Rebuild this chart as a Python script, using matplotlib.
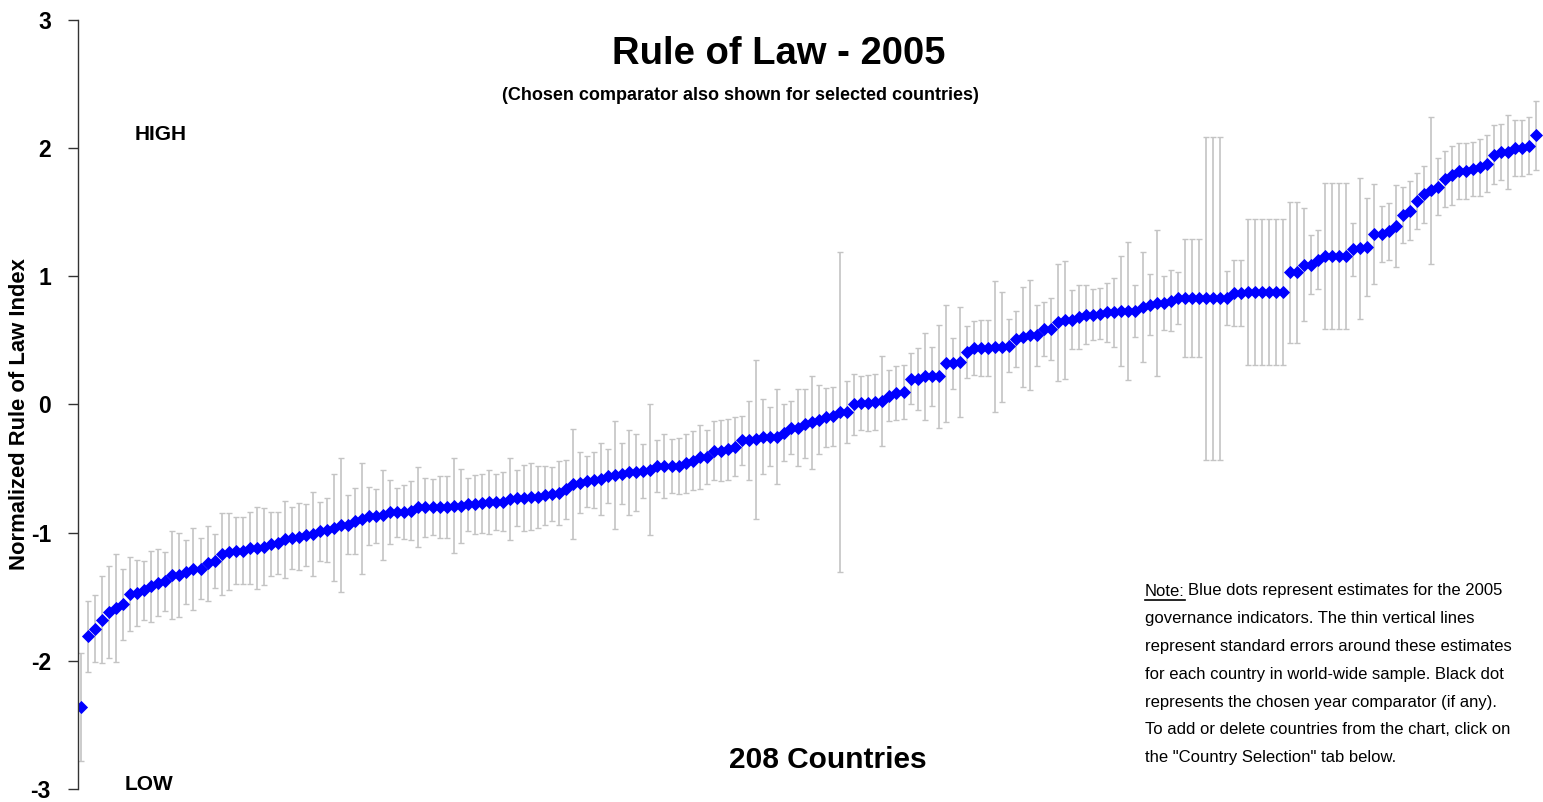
import numpy as np
import matplotlib
matplotlib.use("Agg")
import matplotlib.pyplot as plt
from matplotlib.lines import Line2D

# Rule of Law estimates (sorted) and their standard errors, 208 countries
estimates = [
    -2.36, -1.81, -1.75, -1.68, -1.62, -1.59, -1.56, -1.48, -1.47, -1.45,
    -1.42, -1.39, -1.38, -1.33, -1.33, -1.31, -1.28, -1.28, -1.24, -1.22,
    -1.17, -1.15, -1.14, -1.14, -1.12, -1.12, -1.11, -1.09, -1.08, -1.05,
    -1.04, -1.03, -1.02, -1.01, -0.99, -0.98, -0.96, -0.94, -0.94, -0.91,
    -0.89, -0.87, -0.87, -0.86, -0.84, -0.84, -0.84, -0.83, -0.80, -0.80,
    -0.80, -0.80, -0.80, -0.79, -0.79, -0.78, -0.78, -0.77, -0.76, -0.76,
    -0.76, -0.74, -0.73, -0.73, -0.72, -0.72, -0.71, -0.70, -0.69, -0.66,
    -0.62, -0.61, -0.60, -0.59, -0.58, -0.56, -0.55, -0.54, -0.53, -0.53,
    -0.52, -0.51, -0.48, -0.48, -0.48, -0.48, -0.46, -0.44, -0.41, -0.41,
    -0.36, -0.36, -0.35, -0.33, -0.28, -0.28, -0.27, -0.25, -0.25, -0.25,
    -0.22, -0.18, -0.18, -0.15, -0.14, -0.12, -0.10, -0.09, -0.06, -0.06,
    0.00, 0.01, 0.01, 0.02, 0.03, 0.07, 0.09, 0.10, 0.20, 0.20,
    0.22, 0.22, 0.22, 0.32, 0.32, 0.33, 0.41, 0.44, 0.44, 0.44,
    0.45, 0.45, 0.46, 0.51, 0.53, 0.54, 0.54, 0.59, 0.59, 0.64,
    0.66, 0.66, 0.68, 0.70, 0.70, 0.71, 0.72, 0.72, 0.73, 0.73,
    0.73, 0.76, 0.78, 0.79, 0.79, 0.81, 0.83, 0.83, 0.83, 0.83,
    0.83, 0.83, 0.83, 0.83, 0.87, 0.87, 0.88, 0.88, 0.88, 0.88,
    0.88, 0.88, 1.03, 1.03, 1.09, 1.09, 1.13, 1.16, 1.16, 1.16,
    1.16, 1.21, 1.22, 1.23, 1.33, 1.33, 1.35, 1.39, 1.48, 1.51,
    1.59, 1.64, 1.67, 1.70, 1.76, 1.79, 1.82, 1.82, 1.84, 1.85,
    1.88, 1.95, 1.97, 1.97, 2.00, 2.00, 2.02, 2.10,
]

std_errors = [
    0.42, 0.28, 0.26, 0.34, 0.36, 0.42, 0.28, 0.29, 0.26, 0.23,
    0.28, 0.26, 0.23, 0.34, 0.33, 0.25, 0.32, 0.24, 0.29, 0.21,
    0.32, 0.30, 0.26, 0.26, 0.28, 0.32, 0.30, 0.25, 0.24, 0.30,
    0.24, 0.26, 0.24, 0.33, 0.23, 0.25, 0.42, 0.52, 0.23, 0.26,
    0.43, 0.23, 0.21, 0.35, 0.25, 0.19, 0.21, 0.23, 0.31, 0.23,
    0.22, 0.24, 0.24, 0.37, 0.29, 0.21, 0.23, 0.23, 0.25, 0.22,
    0.23, 0.32, 0.22, 0.26, 0.26, 0.24, 0.23, 0.21, 0.25, 0.23,
    0.43, 0.24, 0.20, 0.22, 0.28, 0.21, 0.42, 0.24, 0.33, 0.30,
    0.21, 0.51, 0.20, 0.25, 0.21, 0.22, 0.23, 0.23, 0.25, 0.21,
    0.23, 0.24, 0.24, 0.23, 0.19, 0.31, 0.62, 0.29, 0.23, 0.37,
    0.22, 0.21, 0.30, 0.27, 0.36, 0.27, 0.23, 0.23, 1.25, 0.24,
    0.24, 0.21, 0.22, 0.22, 0.35, 0.20, 0.21, 0.21, 0.20, 0.24,
    0.34, 0.23, 0.40, 0.46, 0.20, 0.43, 0.20, 0.21, 0.22, 0.22,
    0.51, 0.43, 0.21, 0.22, 0.39, 0.43, 0.24, 0.21, 0.24, 0.46,
    0.46, 0.23, 0.25, 0.23, 0.20, 0.20, 0.23, 0.27, 0.43, 0.54,
    0.20, 0.43, 0.24, 0.57, 0.21, 0.24, 0.20, 0.46, 0.46, 0.46,
    1.26, 1.26, 1.26, 0.21, 0.26, 0.26, 0.57, 0.57, 0.57, 0.57,
    0.57, 0.57, 0.55, 0.55, 0.44, 0.23, 0.23, 0.57, 0.57, 0.57,
    0.57, 0.21, 0.55, 0.38, 0.39, 0.22, 0.22, 0.32, 0.22, 0.23,
    0.22, 0.22, 0.57, 0.22, 0.22, 0.23, 0.22, 0.22, 0.21, 0.22,
    0.22, 0.23, 0.22, 0.29, 0.22, 0.22, 0.22, 0.27,
]

y_ticks = [-3, -2, -1, 0, 1, 2, 3]
y_tick_labels = ["-3", "-2", "-1", "0", "1", "2", "3"]

note_lines = [
    "governance indicators. The thin vertical lines",
    "represent standard errors around these estimates",
    "for each country in world-wide sample. Black dot",
    "represents the chosen year comparator (if any).",
    "To add or delete countries from the chart, click on",
    'the "Country Selection" tab below.',
]

ARIAL = ["Liberation Sans", "DejaVu Sans"]

W, H = 1543, 802
fig = plt.figure(figsize=(W / 100, H / 100), dpi=100)
fig.patch.set_facecolor("white")

# axes box in pixels: left spine at x=78, y from 20 (top) to 789 (bottom)
ax = fig.add_axes([78 / W, 1 - 789 / H, (W - 78) / W, 769 / H])

x = np.arange(len(estimates))
ax.errorbar(x, estimates, yerr=std_errors, fmt="none",
            ecolor="#c4c4c4", elinewidth=1.2, capsize=2.4, capthick=1.0,
            zorder=1)
ax.plot(x, estimates, linestyle="none", marker="D", markersize=5.8,
        color="#0000ff", markeredgecolor="#0000ff", markeredgewidth=0.6,
        zorder=2)

ax.set_xlim(-0.43, 207.97)
ax.set_ylim(-3, 3)
ax.set_yticks(y_ticks)
ax.set_yticklabels(y_tick_labels, fontsize=16.5, fontweight="bold",
                   family=ARIAL)
ax.tick_params(axis="y", direction="out", length=7.5, width=1.0,
               color="#333333", pad=12)
ax.set_xticks([])
for side in ["top", "right", "bottom"]:
    ax.spines[side].set_visible(False)
ax.spines["left"].set_color("#333333")
ax.spines["left"].set_linewidth(1.0)

ax.set_ylabel("Normalized Rule of Law Index", fontsize=15.8, fontweight="bold",
              family=ARIAL)
ax.yaxis.set_label_coords(-0.0325, 0.488)


def px(xp, yp):
    return xp / W, 1 - yp / H


fig.text(*px(779, 54), "Rule of Law - 2005", ha="center", va="center",
         fontsize=27.5, fontweight="bold", family=ARIAL)
fig.text(*px(740, 96), "(Chosen comparator also shown for selected countries)",
         ha="center", va="center", fontsize=13, fontweight="bold", family=ARIAL)
fig.text(*px(135, 135), "HIGH", ha="left", va="center", fontsize=15,
         fontweight="bold", family=ARIAL)
fig.text(*px(125, 785), "LOW", ha="left", va="center", fontsize=15,
         fontweight="bold", family=ARIAL)
fig.text(*px(828, 760), "208 Countries", ha="center", va="center",
         fontsize=21.5, fontweight="bold", family=ARIAL)

# note block, first line has an underlined "Note:"
line_gap = 27.8
note_x, note_y = 1145, 591
note_size = 12
head = fig.text(*px(note_x, note_y), "Note:", ha="left", va="center",
                fontsize=note_size, family=ARIAL)
fig.canvas.draw()
bb = head.get_window_extent()
fig.text((bb.x1 + 3) / W, 1 - note_y / H,
         "Blue dots represent estimates for the 2005", ha="left",
         va="center", fontsize=note_size, family=ARIAL)
fig.add_artist(Line2D([bb.x0 / W, bb.x1 / W],
                      [(bb.y0 - 1) / H, (bb.y0 - 1) / H],
                      color="black", linewidth=1.2))
for k, line in enumerate(note_lines, start=1):
    fig.text(*px(note_x, note_y + k * line_gap), line, ha="left",
             va="center", fontsize=note_size, family=ARIAL)

fig.savefig("out.png", dpi=100, facecolor="white")
